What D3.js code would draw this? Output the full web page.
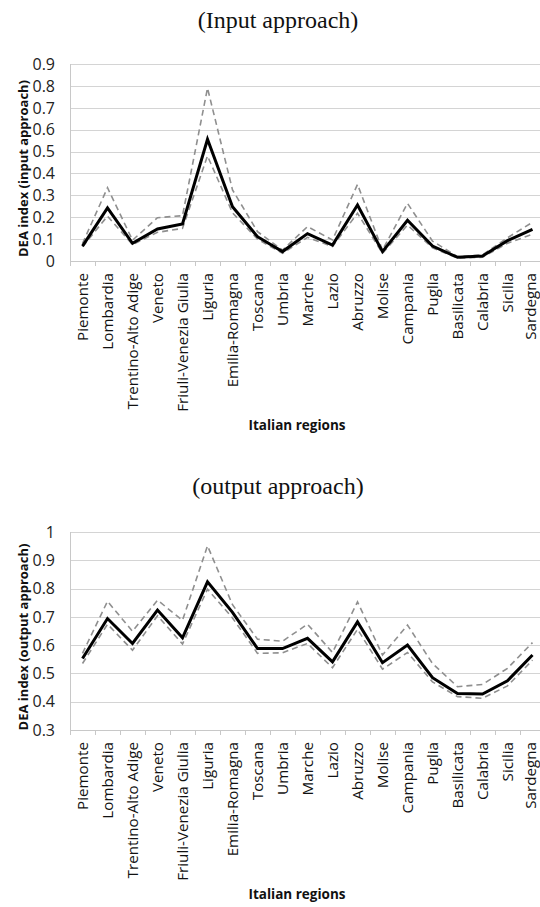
<!DOCTYPE html>
<html>
<head>
<meta charset="utf-8">
<script src="https://cdn.jsdelivr.net/npm/d3@7"></script>
<style>
  html, body { margin: 0; padding: 0; background: #fff; }
  svg { display: block; }
</style>
</head>
<body>
<svg id="chart" width="540" height="907"></svg>
<script>
const categories = ["Piemonte","Lombardia","Trentino-Alto Adige","Veneto","Friuli-Venezia Giulia","Liguria","Emilia-Romagna","Toscana","Umbria","Marche","Lazio","Abruzzo","Molise","Campania","Puglia","Basilicata","Calabria","Sicilia","Sardegna"];

const inputMain  = [0.068,0.243,0.081,0.146,0.169,0.556,0.248,0.111,0.043,0.125,0.073,0.256,0.043,0.186,0.068,0.017,0.023,0.093,0.145];
const inputUpper = [0.080,0.335,0.095,0.198,0.207,0.790,0.325,0.134,0.050,0.157,0.096,0.350,0.050,0.263,0.091,0.020,0.028,0.106,0.177];
const inputLower = [0.065,0.205,0.075,0.131,0.149,0.480,0.220,0.100,0.035,0.108,0.066,0.218,0.035,0.164,0.060,0.013,0.017,0.081,0.122];

const outputMain  = [0.553,0.694,0.606,0.724,0.626,0.824,0.716,0.588,0.588,0.624,0.541,0.682,0.538,0.600,0.485,0.429,0.427,0.474,0.565];
const outputUpper = [0.571,0.755,0.649,0.759,0.688,0.951,0.743,0.621,0.614,0.674,0.574,0.753,0.565,0.671,0.535,0.453,0.461,0.518,0.609];
const outputLower = [0.535,0.674,0.582,0.704,0.604,0.798,0.696,0.571,0.573,0.606,0.520,0.656,0.515,0.574,0.470,0.418,0.412,0.456,0.547];

const inputTicks  = [0,0.1,0.2,0.3,0.4,0.5,0.6,0.7,0.8,0.9];
const outputTicks = [0.3,0.4,0.5,0.6,0.7,0.8,0.9,1];

const titles = ["(Input approach)", "(output approach)"];
const yTitles = ["DEA index (input approach)", "DEA index (output approach)"];
const xTitle = "Italian regions";

const svg = d3.select("#chart");
const sansFont = "'Open Sans', 'Noto Sans', sans-serif";

function panel(cfg) {
  const g = svg.append("g");
  const x = d3.scaleBand().domain(categories).range([70, 545]).paddingInner(0).paddingOuter(0);
  const y = d3.scaleLinear().domain(cfg.domain).range([cfg.bottom, cfg.top]);
  const cx = c => x(c) + x.bandwidth() / 2;

  // title
  g.append("text").attr("x", 278).attr("y", cfg.titleY)
    .attr("text-anchor", "middle")
    .attr("font-family", "'Liberation Serif', 'Times New Roman', serif")
    .attr("font-size", 24).attr("fill", "#111")
    .text(cfg.title);

  // gridlines
  g.append("g").selectAll("line").data(cfg.ticks.slice(1)).join("line")
    .attr("x1", 70).attr("x2", 545)
    .attr("y1", d => Math.round(y(d)) + 0.5).attr("y2", d => Math.round(y(d)) + 0.5)
    .attr("stroke", "#d4d4d4").attr("stroke-width", 1.2);

  // y axis line
  g.append("line").attr("x1", 70.5).attr("x2", 70.5)
    .attr("y1", y(cfg.domain[1])).attr("y2", y(cfg.domain[0]))
    .attr("stroke", "#c8c8c8");

  // x axis
  const xAxis = d3.axisBottom(x).tickSize(0).tickFormat("");
  const ax = g.append("g").attr("transform", `translate(0,${Math.round(y(cfg.domain[0])) + 0.5})`).call(xAxis);
  ax.select(".domain").attr("stroke", "#c8c8c8").attr("d", "M70,0H545");
  ax.selectAll(".tick").remove();
  const bounds = categories.map(c => x(c)).concat([x(categories[categories.length - 1]) + x.bandwidth()]);
  g.append("g").selectAll("line").data(bounds).join("line")
    .attr("x1", d => Math.round(d) + 0.5).attr("x2", d => Math.round(d) + 0.5)
    .attr("y1", Math.round(y(cfg.domain[0]))).attr("y2", Math.round(y(cfg.domain[0])) + 5)
    .attr("stroke", "#c8c8c8");

  // y tick labels
  g.append("g").selectAll("text").data(cfg.ticks).join("text")
    .attr("x", 55).attr("y", d => y(d))
    .attr("dy", "0.36em")
    .attr("text-anchor", "end")
    .attr("font-family", sansFont).attr("font-size", 16).attr("fill", "#222")
    .text(d => d3.format("")(+d.toFixed(1)));

  // x labels rotated
  g.append("g").selectAll("text").data(categories).join("text")
    .attr("transform", c => `translate(${Math.min(cx(c), 531)},${y(cfg.domain[0]) + 12}) rotate(-90)`)
    .attr("text-anchor", "end")
    .attr("dy", "0.35em")
    .attr("font-family", sansFont).attr("font-size", 15.2).attr("fill", "#111")
    .text(c => c);

  // y title
  g.append("text")
    .attr("transform", `translate(28,${(cfg.top + cfg.bottom) / 2 + 6}) rotate(-90)`)
    .attr("text-anchor", "middle")
    .attr("font-family", sansFont).attr("font-weight", "bold").attr("font-size", 13).attr("fill", "#111")
    .text(cfg.yTitle);

  // x title
  g.append("text").attr("x", 297).attr("y", y(cfg.domain[0]) + 169)
    .attr("text-anchor", "middle")
    .attr("font-family", sansFont).attr("font-weight", "bold").attr("font-size", 13.5).attr("fill", "#111")
    .text(xTitle);

  const line = d3.line().x((d, i) => cx(categories[i])).y(d => y(d));
  [cfg.upper, cfg.lower].forEach(s => {
    g.append("path").datum(s).attr("d", line)
      .attr("fill", "none").attr("stroke", "#8f8f8f").attr("stroke-width", 1.6)
      .attr("stroke-dasharray", "6,4");
  });
  g.append("path").datum(cfg.main).attr("d", line)
    .attr("fill", "none").attr("stroke", "#000").attr("stroke-width", 3)
    .attr("stroke-linejoin", "miter");
}

panel({ title: titles[0], titleY: 28, domain: [0, 0.9], top: 64, bottom: 261,
  ticks: inputTicks, yTitle: yTitles[0], main: inputMain, upper: inputUpper, lower: inputLower });
panel({ title: titles[1], titleY: 494, domain: [0.3, 1], top: 532, bottom: 730,
  ticks: outputTicks, yTitle: yTitles[1], main: outputMain, upper: outputUpper, lower: outputLower });
</script>
</body>
</html>
